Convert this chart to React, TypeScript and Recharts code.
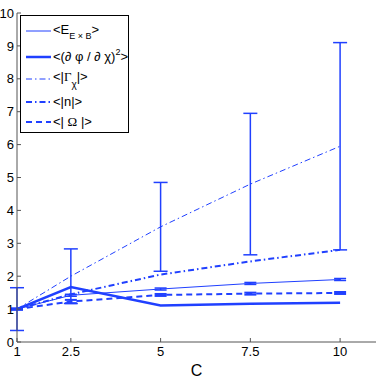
import { LineChart, Line, XAxis, YAxis, ErrorBar, Legend } from 'recharts';

const C_VALUES = [1, 2.5, 5, 7.5, 10];
const E_EXB = [1.0, 1.42, 1.61, 1.78, 1.9];
const E_EXB_ERR = [0.02, 0.03, 0.03, 0.03, 0.03];
const DPHI = [1.0, 1.67, 1.11, 1.16, 1.19];
const GAMMA = [1.0, 2.0, 3.5, 4.8, 5.95];
const GAMMA_ERR = [0.65, 0.83, 1.35, 2.15, 3.15];
const N_ABS = [1.0, 1.45, 2.05, 2.45, 2.8];
const OMEGA = [1.0, 1.23, 1.43, 1.47, 1.49];
const OMEGA_ERR = [0.02, 0.05, 0.03, 0.03, 0.03];

const X_TICKS = [1, 2.5, 5, 7.5, 10];
const Y_TICKS = [0, 1, 2, 3, 4, 5, 6, 7, 8, 9, 10];

const BLUE = '#2040ff';
const AXIS = '#555';
const FONT = '"Liberation Sans", Arial, sans-serif';

const data = C_VALUES.map((c, i) => ({
  c,
  exb: E_EXB[i],
  exbErr: E_EXB_ERR[i],
  dphi: DPHI[i],
  gamma: GAMMA[i],
  gammaErr: GAMMA_ERR[i],
  n: N_ABS[i],
  omega: OMEGA[i],
  omegaErr: OMEGA_ERR[i],
}));

const DASHDOT = '6 3 1.5 3';

function LegendBox() {
  const rows = [
    { y: 16, w: 1, dash: undefined },
    { y: 42, w: 2.5, dash: undefined },
    { y: 64, w: 1, dash: DASHDOT },
    { y: 87, w: 2, dash: DASHDOT },
    { y: 107, w: 2, dash: '6 4' },
  ];
  return (
    <svg width={109} height={118} style={{ display: 'block' }}>
      <rect x={0.5} y={0.5} width={108} height={117} fill="#fff" stroke="#000" strokeWidth={1} />
      {rows.map((r, i) => (
        <line key={i} x1={6} x2={31} y1={r.y} y2={r.y} stroke={BLUE} strokeWidth={r.w} strokeDasharray={r.dash} />
      ))}
      <g fontFamily={FONT} fontSize={13} fill="#000">
        <text x={33} y={19}>
          {'<E'}
          <tspan fontSize={9} dy={5}>{'E × B'}</tspan>
          <tspan dy={-5}>{'>'}</tspan>
        </text>
        <text x={33} y={46}>
          {'<(∂ φ / ∂ χ)'}
          <tspan fontSize={9} dy={-6}>2</tspan>
          <tspan dy={6}>{'>'}</tspan>
        </text>
        <text x={33} y={66}>
          {'<|'}
          <tspan fontFamily='"Liberation Serif", serif'>Γ</tspan>
          <tspan fontSize={10} dy={7}>χ</tspan>
          <tspan dy={-7}>{'|>'}</tspan>
        </text>
        <text x={33} y={91}>{'<|n|>'}</text>
        <text x={33} y={111}>
          {'<| '}
          <tspan fontFamily='"Liberation Serif", serif'>Ω</tspan>
          {'  |>'}
        </text>
      </g>
    </svg>
  );
}

export default function App() {
  return (
    <div style={{ position: 'absolute', left: 0, top: 0, background: '#fff' }}>
      <LineChart width={382} height={382} data={data} margin={{ top: 13, right: 6, left: 0, bottom: 0 }}>
        <XAxis
          dataKey="c"
          type="number"
          domain={[1, 11]}
          ticks={X_TICKS}
          allowDataOverflow
          height={40}
          stroke={AXIS}
          tickSize={-4}
          tickMargin={9}
          tick={{ fill: '#000', fontSize: 13, fontFamily: FONT }}
          label={{ value: 'C', position: 'insideBottom', offset: 6, fill: '#000', fontSize: 16, fontFamily: FONT }}
        />
        <XAxis
          xAxisId="top"
          orientation="top"
          dataKey="c"
          type="number"
          domain={[1, 11]}
          ticks={X_TICKS}
          allowDataOverflow
          height={0}
          stroke={AXIS}
          tickSize={-4}
          tick={false}
        />
        <YAxis
          type="number"
          domain={[0, 10]}
          ticks={Y_TICKS}
          allowDataOverflow
          width={17}
          stroke={AXIS}
          tickSize={-4}
          tickMargin={7}
          tick={{ fill: '#000', fontSize: 13, fontFamily: FONT }}
        />
        <YAxis
          yAxisId="right"
          orientation="right"
          type="number"
          domain={[0, 10]}
          ticks={Y_TICKS}
          allowDataOverflow
          width={0}
          stroke={AXIS}
          tickSize={-4}
          tick={false}
        />
        <Legend
          layout="vertical"
          align="center"
          verticalAlign="middle"
          content={() => <LegendBox />}
          wrapperStyle={{ left: 20, top: 15, width: 109, height: 118 }}
        />
        <Line dataKey="gamma" stroke={BLUE} strokeWidth={1} strokeDasharray={DASHDOT} dot={false} activeDot={false} isAnimationActive={false}>
          <ErrorBar dataKey="gammaErr" width={7} stroke={BLUE} strokeWidth={1.5} direction="y" isAnimationActive={false} />
        </Line>
        <Line dataKey="exb" stroke={BLUE} strokeWidth={1} dot={false} activeDot={false} isAnimationActive={false}>
          <ErrorBar dataKey="exbErr" width={6} stroke={BLUE} strokeWidth={1.5} direction="y" isAnimationActive={false} />
        </Line>
        <Line dataKey="dphi" stroke={BLUE} strokeWidth={2.5} dot={false} activeDot={false} isAnimationActive={false} />
        <Line dataKey="n" stroke={BLUE} strokeWidth={2} strokeDasharray={DASHDOT} dot={false} activeDot={false} isAnimationActive={false} />
        <Line dataKey="omega" stroke={BLUE} strokeWidth={2} strokeDasharray="6 4" dot={false} activeDot={false} isAnimationActive={false}>
          <ErrorBar dataKey="omegaErr" width={6} stroke={BLUE} strokeWidth={2} direction="y" isAnimationActive={false} />
        </Line>
      </LineChart>
    </div>
  );
}
